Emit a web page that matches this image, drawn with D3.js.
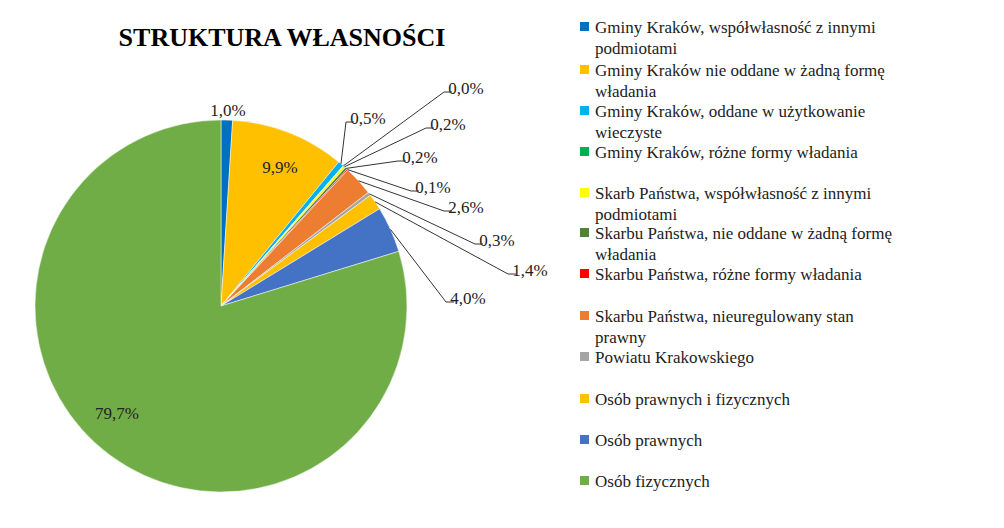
<!DOCTYPE html><html><head><meta charset="utf-8"><script src="https://cdn.jsdelivr.net/npm/d3@7"></script>
<style>body{margin:0;background:#fff}</style></head><body><svg id="c" width="1004" height="528" font-family="'Liberation Serif', 'DejaVu Serif', serif"></svg><script>
const categories=["Gminy Kraków, współwłasność z innymi podmiotami","Gminy Kraków nie oddane w żadną formę władania","Gminy Kraków, oddane w użytkowanie wieczyste","Gminy Kraków, różne formy władania","Skarb Państwa, współwłasność z innymi podmiotami","Skarbu Państwa, nie oddane w żadną formę władania","Skarbu Państwa, różne formy władania","Skarbu Państwa, nieuregulowany stan prawny","Powiatu Krakowskiego","Osób prawnych i fizycznych","Osób prawnych","Osób fizycznych"];
const legendLines=[["Gminy Kraków, współwłasność z innymi","podmiotami"],["Gminy Kraków nie oddane w żadną formę","władania"],["Gminy Kraków, oddane w użytkowanie","wieczyste"],["Gminy Kraków, różne formy władania"],["Skarb Państwa, współwłasność z innymi","podmiotami"],["Skarbu Państwa, nie oddane w żadną formę","władania"],["Skarbu Państwa, różne formy władania"],["Skarbu Państwa, nieuregulowany stan","prawny"],["Powiatu Krakowskiego"],["Osób prawnych i fizycznych"],["Osób prawnych"],["Osób fizycznych"]];
const values=[1.0,9.9,0.5,0.04,0.2,0.2,0.1,2.6,0.3,1.4,4.0,79.7];
const labels=["1,0%","9,9%","0,5%","0,0%","0,2%","0,2%","0,1%","2,6%","0,3%","1,4%","4,0%","79,7%"];
const colors=["#0070C0","#FFC000","#00B0F0","#00B050","#FFFF00","#548235","#FF0000","#ED7D31","#A5A5A5","#FFC000","#4472C4","#70AD47"];
const labelPos=[[228,110],[280,167],[368,118],[466,88],[448,124],[420,157],[433,187],[466,207],[497,240],[530,270],[468,298],[117,413]];
const leader=[false,false,true,true,true,true,true,true,true,true,true,false];
const svg=d3.select("#c");
svg.append("text").attr("x",282).attr("y",46).attr("text-anchor","middle").attr("font-size",26).attr("font-weight","bold").attr("fill","#000").text("STRUKTURA WŁASNOŚCI");
const cx=221,cy=306,R=186;
const pie=d3.pie().sort(null).value(d=>d)(values);
const arc=d3.arc().innerRadius(0).outerRadius(R);
const g=svg.append("g").attr("transform",`translate(${cx},${cy})`);
g.selectAll("path").data(pie).join("path").attr("d",arc).attr("fill",(d,i)=>colors[i]).attr("stroke","#fff").attr("stroke-width",0.5);
const edge=d3.arc().innerRadius(R).outerRadius(R);
pie.forEach((d,i)=>{
  const [lx,ly]=labelPos[i];
  if(leader[i]){
    const [ex,ey]=edge.centroid(d);
    const tx=lx-22;
    svg.append("polyline").attr("points",`${cx+ex},${cy+ey} ${tx},${ly+4} ${tx+8},${ly+4}`).attr("fill","none").attr("stroke","#000").attr("stroke-width",0.8);
  }
  svg.append("text").attr("x",lx).attr("y",ly+6).attr("text-anchor","middle").attr("font-size",17).attr("fill","#222").text(labels[i]);
});
const lg=svg.append("g");
const rowY=[27,70,111,152,193,233,274,316,357,399,440,481];
legendLines.forEach((ls,i)=>{
  lg.append("rect").attr("x",580).attr("y",rowY[i]-5).attr("width",9).attr("height",9).attr("fill",colors[i]);
  ls.forEach((t,j)=>lg.append("text").attr("x",595).attr("y",rowY[i]+6+j*21).attr("font-size",17).attr("fill","#222").text(t));
});
</script></body></html>
